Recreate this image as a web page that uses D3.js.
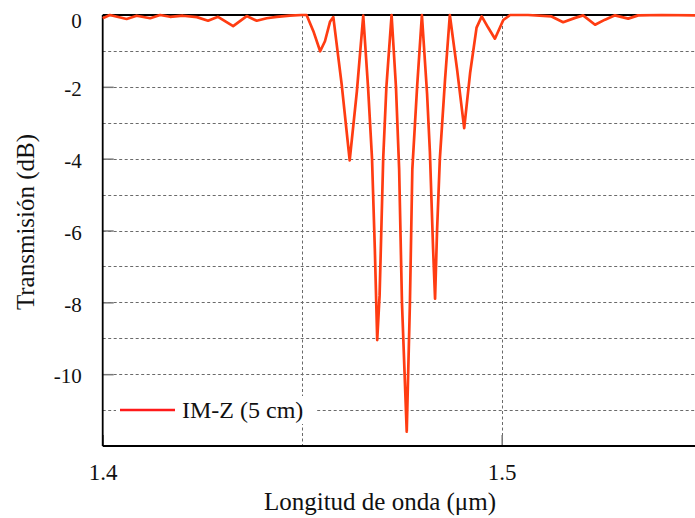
<!DOCTYPE html>
<html>
<head>
<meta charset="utf-8">
<script src="https://cdn.jsdelivr.net/npm/d3@7"></script>
<style>
  html, body { margin: 0; padding: 0; background: #fff; }
  svg { display: block; font-family: "Liberation Serif", "Times New Roman", serif; }
  svg text { font-family: "Liberation Serif", "Times New Roman", serif !important; }
</style>
</head>
<body>
<svg id="chart" width="695" height="518"></svg>
<script>
// Transmission spectrum of the IM-Z device (5 cm): wavelength (µm) vs transmission (dB)
const wavelength = [
  1.4000, 1.4018, 1.4060, 1.4085, 1.4119, 1.4144, 1.4169, 1.4201, 1.4236, 1.4264,
  1.4289, 1.4327, 1.4361, 1.4386, 1.4411, 1.4436, 1.4469, 1.4499,
  1.4511, 1.4528, 1.4545, 1.4557, 1.4570, 1.4578,
  1.4599, 1.4619, 1.4637, 1.4653,
  1.4665, 1.4675, 1.4682, 1.4688, 1.4694, 1.4703, 1.4711, 1.4724,
  1.4735, 1.4743, 1.4750, 1.4762, 1.4770, 1.4776, 1.4788, 1.4800,
  1.4813, 1.4820, 1.4828, 1.4833, 1.4838, 1.4845, 1.4858, 1.4870,
  1.4888, 1.4906, 1.4921, 1.4937, 1.4950,
  1.4966, 1.4983, 1.5004, 1.5021,
  1.5066, 1.5125, 1.5154, 1.5184, 1.5204, 1.5234, 1.5259, 1.5284, 1.5317, 1.5342,
  1.5401, 1.5500
];
const transmission = [
  -0.09, 0.00, -0.11, -0.02, -0.09, 0.00, -0.05, -0.02, -0.06, -0.16,
  -0.05, -0.31, -0.03, -0.16, -0.09, -0.05, -0.02, 0.00,
  0.00, -0.45, -1.01, -0.73, -0.18, -0.06,
  -1.94, -4.05, -2.13, -0.02,
  -2.00, -4.00, -6.50, -9.05, -7.80, -4.00, -2.00, 0.00,
  -2.00, -4.30, -8.00, -11.60, -8.00, -4.30, -2.00, 0.00,
  -2.20, -3.80, -6.50, -7.90, -6.00, -4.00, -1.80, 0.00,
  -1.50, -3.15, -1.60, -0.35, -0.04,
  -0.35, -0.66, -0.14, 0.00,
  0.00, -0.04, -0.20, -0.08, -0.01, -0.27, -0.13, -0.01, -0.10, -0.01,
  0.00, -0.01
];

const yTickValues = [0, -2, -4, -6, -8, -10];
const yGridValues = [-1, -2, -3, -4, -5, -6, -7, -8, -9, -10, -11];
const xTickValues = [1.4, 1.5];
const xGridValues = [1.45, 1.5];
const seriesName = "IM-Z (5 cm)";
const xTitle = "Longitud de onda (μm)";
const yTitle = "Transmisión (dB)";

const svg = d3.select("#chart");
const plotLeft = 102.7, plotTop = 15, plotBottom = 446;

const x = d3.scaleLinear().domain([1.4, 1.55]).range([plotLeft, plotLeft + 3990 * 0.15]);
const y = d3.scaleLinear().domain([-12, 0]).range([plotBottom, plotTop]);
const plotRight = x.range()[1];

// grid
const grid = svg.append("g").attr("stroke", "#6a6a6a").attr("stroke-width", 1)
  .attr("stroke-dasharray", "3,2.5");
grid.selectAll("line.h").data(yGridValues).join("line").attr("class", "h")
  .attr("x1", plotLeft).attr("x2", plotRight)
  .attr("y1", d => Math.round(y(d)) + 0.5).attr("y2", d => Math.round(y(d)) + 0.5);
grid.selectAll("line.v").data(xGridValues).join("line").attr("class", "v")
  .attr("y1", plotTop).attr("y2", plotBottom)
  .attr("x1", d => Math.round(x(d)) + 0.5).attr("x2", d => Math.round(x(d)) + 0.5);

// axes (plain hyphen for negative labels)
const yAxis = d3.axisLeft(y).tickValues(yTickValues).tickFormat(d => String(d))
  .tickSizeInner(-11).tickSizeOuter(0).tickPadding(21);
const gy = svg.append("g").attr("transform", `translate(${plotLeft},0)`).call(yAxis);
gy.select(".domain").remove();
gy.selectAll(".tick line").attr("stroke", "#777").attr("stroke-width", 1.5);
gy.selectAll(".tick text").attr("font-size", 21).attr("fill", "#111")
  .attr("transform", d => `translate(0,${d === 0 ? 6 : 2})`);

const xAxis = d3.axisBottom(x).tickValues(xTickValues).tickFormat(d3.format(".1f"))
  .tickSizeInner(-11).tickSizeOuter(0).tickPadding(18);
const gx = svg.append("g").attr("transform", `translate(0,${plotBottom})`).call(xAxis);
gx.select(".domain").remove();
gx.selectAll(".tick line").attr("stroke", "#777").attr("stroke-width", 1.5);
gx.selectAll(".tick text").attr("font-size", 23).attr("fill", "#111");

// frame
svg.append("line").attr("x1", plotLeft).attr("x2", plotRight).attr("y1", plotTop).attr("y2", plotTop)
  .attr("stroke", "#000").attr("stroke-width", 2);
svg.append("line").attr("x1", plotLeft).attr("x2", plotRight).attr("y1", plotBottom).attr("y2", plotBottom)
  .attr("stroke", "#000").attr("stroke-width", 2);
svg.append("line").attr("x1", plotLeft).attr("x2", plotLeft).attr("y1", plotTop).attr("y2", plotBottom)
  .attr("stroke", "#000").attr("stroke-width", 1.8);

// legend
const legend = svg.append("g");
legend.append("rect").attr("x", 116).attr("y", 396).attr("width", 200).attr("height", 28)
  .attr("fill", "#fff");
legend.append("line").attr("x1", 120).attr("x2", 175).attr("y1", 410).attr("y2", 410)
  .attr("stroke", "#ff1a1a").attr("stroke-width", 2.5);
legend.append("text").attr("x", 182).attr("y", 418).attr("font-size", 24).attr("fill", "#111")
  .text(seriesName);

// spectrum curve
const pts = wavelength.map((w, i) => [w, transmission[i]]);
svg.append("path").datum(pts)
  .attr("fill", "none").attr("stroke", "#ff3c12").attr("stroke-width", 2.7)
  .attr("stroke-linejoin", "round")
  .attr("d", d3.line().x(d => x(d[0])).y(d => y(d[1])));

// titles
svg.append("text").attr("x", 380).attr("y", 510).attr("text-anchor", "middle")
  .attr("font-size", 25).attr("fill", "#111").text(xTitle);
svg.append("text").attr("transform", "translate(34,222) rotate(-90)")
  .attr("text-anchor", "middle").attr("font-size", 25).attr("fill", "#111").text(yTitle);
</script>
</body>
</html>
